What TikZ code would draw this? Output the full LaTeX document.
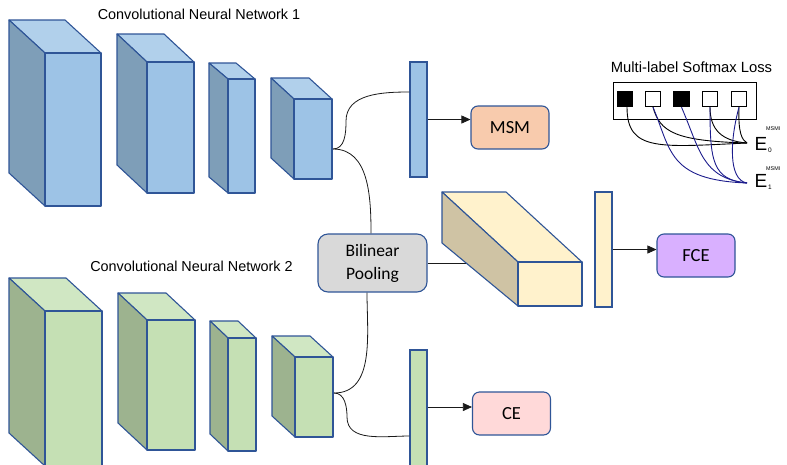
\documentclass[tikz,border=0pt]{standalone}
\usepackage{fontspec}
\setmainfont{Liberation Sans}
\newfontfamily\calibri{Carlito}
\usetikzlibrary{arrows.meta}

\definecolor{bfront}{HTML}{9DC3E6}
\definecolor{btop}{HTML}{B1D0EB}
\definecolor{bside}{HTML}{7E9EB8}
\definecolor{gfront}{HTML}{C5E0B4}
\definecolor{gtop}{HTML}{D0E7C3}
\definecolor{gside}{HTML}{9DB38F}
\definecolor{yfront}{HTML}{FFF2CC}
\definecolor{ytop}{HTML}{FFF2CC}
\definecolor{yside}{HTML}{CFC3A4}
\definecolor{edge}{HTML}{2F5597}
\definecolor{poolfill}{HTML}{D9D9D9}
\definecolor{msmfill}{HTML}{F8CBAD}
\definecolor{cefill}{HTML}{FFD9D9}
\definecolor{fcefill}{HTML}{D9B0FF}
\definecolor{navyline}{HTML}{1C1C8C}
\definecolor{conn}{HTML}{1A1A1A}

% a b c d e f prefix : back-top-left (a,b), front-top-left (c,d), front right x = e, bottom y = f
\newcommand\mycuboid[7]{%
  \filldraw[fill=#7top, draw=edge, cuboidline] (#1,#2) -- (#5-#3+#1,#2) -- (#5,#4) -- (#3,#4) -- cycle;
  \filldraw[fill=#7side, draw=edge, cuboidline] (#1,#2) -- (#3,#4) -- (#3,#6) -- (#1,#6-#4+#2) -- cycle;
  \filldraw[fill=#7front, draw=edge, cuboidline] (#3,#4) rectangle (#5,#6);
}

\tikzset{
  cuboidline/.style={line width=1.1pt, line join=round},
  barbox/.style={draw=edge, line width=1.1pt, minimum width=17, inner sep=0pt, rectangle},
  lossbox/.style={draw=edge, line width=1.1pt, rounded corners=7pt, minimum width=78, minimum height=43,
    font=\calibri\fontsize{18.5}{20}\selectfont, inner sep=0pt},
  arr/.style={draw=conn, line width=0.7pt, -{Triangle[length=9pt,width=8pt]}},
  curve/.style={draw=conn, line width=0.8pt},
  title/.style={font=\fontsize{14.4}{17}\selectfont, inner sep=0pt},
  sq/.style={draw=black, line width=0.9pt, minimum width=15.5, minimum height=15.5, inner sep=0pt},
  blk/.style={line width=0.9pt, black},
  blu/.style={line width=0.9pt, navyline},
}

\begin{document}
\begin{tikzpicture}[x=1pt,y=-1pt]
\useasboundingbox (0,0) rectangle (787,464);

% titles
\node[title] (t1) at (199,14) {Convolutional Neural Network 1};
\node[title] (t2) at (191.5,266) {Convolutional Neural Network 2};

% CNN 1
\mycuboid{9}{20}{45}{53}{101}{206}{b}
\mycuboid{117}{34}{147}{62}{194}{193}{b}
\mycuboid{209}{63}{228}{79}{255}{193}{b}
\mycuboid{271}{78}{294}{99}{332}{179}{b}
\coordinate (c1out) at (333,149);

% CNN 2
\mycuboid{9}{278}{45}{311}{102}{466}{g}
\mycuboid{118}{293}{147}{320}{195}{450}{g}
\mycuboid{210}{321}{228}{338}{256}{451}{g}
\mycuboid{272}{336}{295}{357}{333}{437}{g}
\coordinate (c2out) at (334,393);

% bars
\node[barbox, fill=bfront, minimum height=115] (bar1) at (418.5,119.5) {};
\node[barbox, fill=gfront, minimum height=125] (bar2) at (418.5,412.5) {};
\node[barbox, fill=yfront, minimum height=115] (bar3) at (603.5,249.5) {};

% bilinear pooling
\node[draw=edge, line width=1.1pt, fill=poolfill, rounded corners=10pt, minimum width=109, minimum height=58,
  align=center, inner sep=0pt, font=\calibri\fontsize{17.5}{23}\selectfont] (pool) at (372.5,263) {Bilinear\\Pooling};

% connectors CNN1
\coordinate (k1) at (346,121);
\draw[curve] (c1out) to[out=0,in=-90] (k1) to[out=90,in=180] (bar1.west |- 0,92);
\draw[curve] (c1out) to[out=0,in=90] ([xshift=-1.5]pool.north);
% connectors CNN2
\coordinate (k2) at (347,417);
\draw[curve] (c2out) to[out=0,in=90] (k2) to[out=-90,in=180] (bar2.west |- 0,436);
\draw[curve] (c2out) to[out=0,in=-90] ([xshift=-5.5]pool.south);

% pooling to block
\coordinate (blkin) at (472,263);
\draw[curve] (pool.east) -- (blkin);

% yellow block
\filldraw[fill=ytop, draw=edge, cuboidline] (442,192) -- (506,192) -- (582,262) -- (518,262) -- cycle;
\filldraw[fill=yside, draw=edge, cuboidline] (442,192) -- (518,262) -- (518,306) -- (442,243) -- cycle;
\filldraw[fill=yfront, draw=edge, cuboidline] (518,262) rectangle (582,306);

% output boxes
\node[lossbox, fill=msmfill] (msm) at (510,127.5) {MSM};
\node[lossbox, fill=cefill] (ce) at (511.5,413.5) {CE};
\node[lossbox, fill=fcefill] (fce) at (696,255.5) {FCE};

\draw[arr] (bar1.east) -- (bar1.east -| msm.west);
\draw[arr] (bar2.east |- 0,407) -- (ce.west |- 0,407);
\draw[arr] (bar3.east) -- (bar3.east -| fce.west);

% multi-label softmax loss
\node[font=\fontsize{14.8}{17}\selectfont, inner sep=0pt] (losst) at (691.5,67) {Multi-label Softmax Loss};
\node[draw=black, line width=1pt, minimum width=143, minimum height=37, inner sep=0pt] (lossrect) at (684.5,100.5) {};
\node[sq, fill=black] (s1) at (625,99) {};
\node[sq, fill=white] (s2) at (653,99) {};
\node[sq, fill=black] (s3) at (681.5,99) {};
\node[sq, fill=white] (s4) at (710,99) {};
\node[sq, fill=white] (s5) at (739,99) {};

\coordinate (e0pt) at (747,143);
\coordinate (e1pt) at (747,183);

\node[anchor=base west, inner sep=0pt, font=\fontsize{19}{19}\selectfont] (e0) at (754.5,150) {E};
\node[anchor=base west, inner sep=0pt, font=\fontsize{6.5}{7}\selectfont] (e0s) at (768,152) {0};
\node[anchor=base west, inner sep=0pt, font=\fontsize{5.4}{6}\selectfont] (e0m) at (766,130) {MSMI};
\node[anchor=base west, inner sep=0pt, font=\fontsize{19}{19}\selectfont] (e1) at (754.5,187) {E};
\node[anchor=base west, inner sep=0pt, font=\fontsize{6.5}{7}\selectfont] (e1s) at (768,189) {1};
\node[anchor=base west, inner sep=0pt, font=\fontsize{5.4}{6}\selectfont] (e1m) at (766,170) {MSMI};

% black curves to E0
\draw[blk] ([xshift=2]s1.south) .. controls (627,152) and (660,147) .. (e0pt);
\draw[blk] (s2.south) .. controls (660,132) and (675,141) .. (e0pt);
\draw[blk] (s4.south) .. controls (710,130) and (722,141) .. (e0pt);
\draw[blk] (s5.south) .. controls (738,133) and (742,140) .. (e0pt);
% blue curves to E1
\draw[blu] (s2.south) .. controls (671,150) and (668,180) .. (e1pt);
\draw[blu] (s3.south) .. controls (700,150) and (702,178) .. (e1pt);
\draw[blu] (s4.south) .. controls (710,160) and (712,180) .. (e1pt);
\draw[blu] (s5.south) .. controls (730,140) and (728,180) .. (e1pt);
\end{tikzpicture}
\end{document}
